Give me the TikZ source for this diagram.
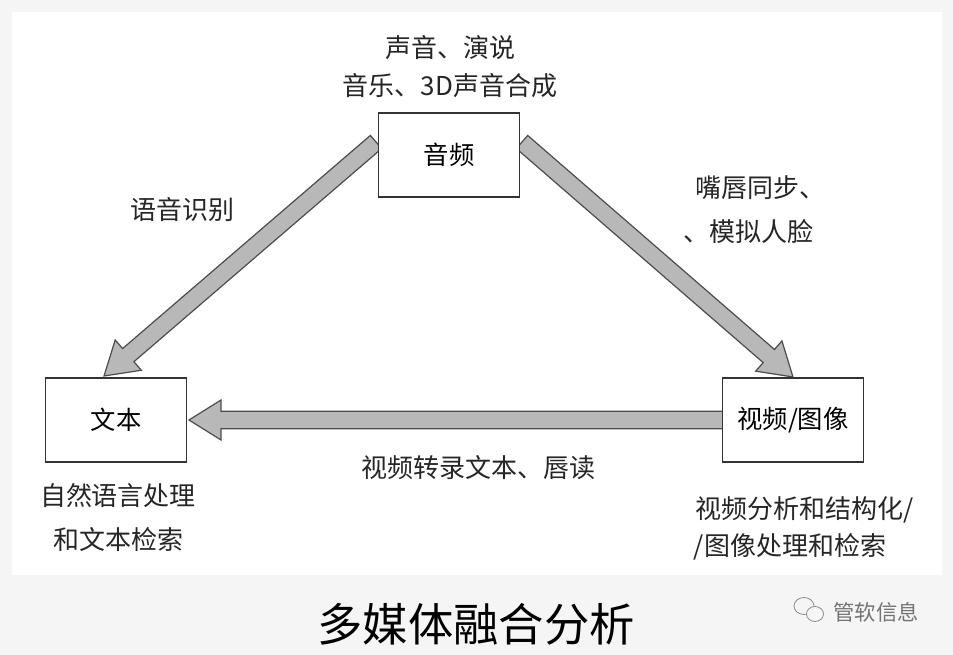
\documentclass[tikz,border=0pt]{standalone}
\usepackage{fontspec}
\setmainfont{Noto Sans CJK SC}
\usetikzlibrary{calc}
\tikzset{
  box/.style={draw=black!80, line width=1.2pt, fill=white, minimum width=106pt, minimum height=63pt, font=\fontsize{19}{21}\selectfont},
  lbl/.style={font=\fontsize{19.5}{21}\selectfont, text=black!85},
  fat/.style={fill=black!28, draw=black!70, line width=0.9pt, line join=miter}
}
% fat gray arrow from #1 to #2
\newcommand\fatarrow[2]{
  \coordinate (hb) at ($(#2)!24pt!(#1)$);
  \draw[fat] ($(#1)!6.5pt!90:(#2)$) -- ($(hb)!6.5pt!90:(#2)$) -- ($(hb)!15pt!90:(#2)$)
    -- (#2) -- ($(hb)!15pt!-90:(#2)$) -- ($(hb)!6.5pt!-90:(#2)$) -- ($(#1)!6.5pt!-90:(#2)$) -- cycle;
}
\begin{document}
\begin{tikzpicture}[x=0.75pt, y=-0.75pt]
  \fill[black!4] (0,0) rectangle (953,655);
  \fill[white] (12,12) rectangle (942,575);
  \useasboundingbox (0,0) rectangle (953,655);

  % arrows
  \coordinate (a1) at (376,142);
  \coordinate (t1) at (104,376);
  \coordinate (a2) at (522,142);
  \coordinate (v1) at (793,377);
  \coordinate (v2) at (723,420);
  \coordinate (t2) at (189,420);
  \fatarrow{a1}{t1}
  \fatarrow{a2}{v1}
  \fatarrow{v2}{t2}

  % boxes
  \node[box] (audio) at (449,155) {音频};
  \node[box] (text) at (116,420) {文本};
  \node[box] (video) at (793,420) {视频/图像};

  % labels
  \node[lbl] (al1) at (450,48) {声音、演说};
  \node[lbl] (al2) at (450,86) {音乐、3D声音合成};
  \node[lbl] (sr) at (182,210) {语音识别};
  \node[lbl] (ls1) at (760,188) {嘴唇同步、};
  \node[lbl] (ls2) at (748,232) {、模拟人脸};
  \node[lbl] (vt) at (478,468) {视频转录文本、唇读};
  \node[lbl] (tl1) at (118,496) {自然语言处理};
  \node[lbl] (tl2) at (118,540) {和文本检索};
  \node[lbl] (vl1) at (805,510) {视频分析和结构化/};
  \node[lbl] (vl2) at (790,547) {/图像处理和检索};

  \node[font=\fontsize{34}{36}\selectfont] (cap) at (476,624) {多媒体融合分析};
  % watermark
  \draw[black!45, line width=0.6pt, fill=black!4] (804,606) ellipse (10 and 8.5);
  \draw[black!45, line width=0.6pt, fill=black!4] (815,614) ellipse (8.5 and 7.5);
  \node[font=\fontsize{16}{18}\selectfont, text=black!55] (wm) at (876,612) {管软信息};
\end{tikzpicture}
\end{document}
